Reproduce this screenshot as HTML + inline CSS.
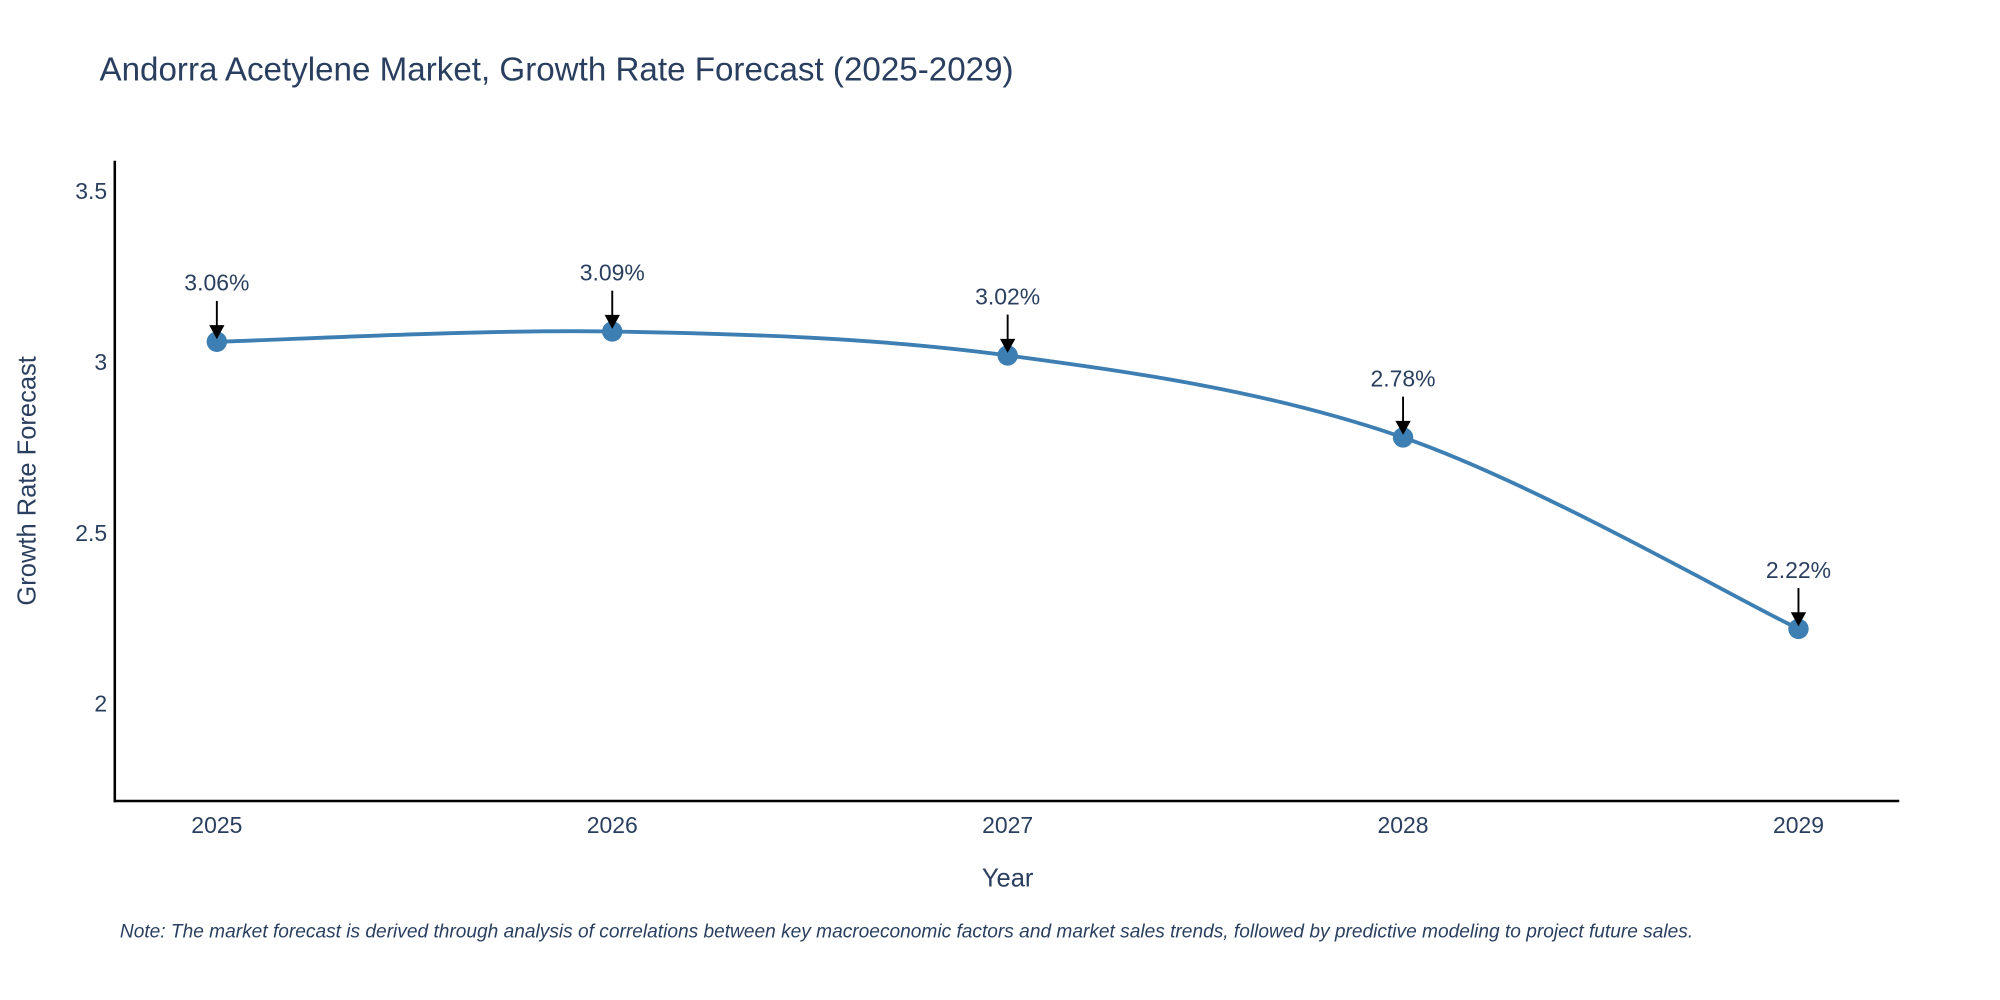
<!DOCTYPE html>
<html><head><meta charset="utf-8"><style>html,body{margin:0;padding:0;background:#fff}svg{display:block}text{font-family:"Liberation Sans",sans-serif;fill:#2a3f5f}</style></head>
<body>
<svg id="chart" width="2000" height="1000" viewBox="0 0 1568 784">
<text x="78" y="63" font-size="26">Andorra Acetylene Market, Growth Rate Forecast (2025-2029)</text>
<line x1="90" y1="126" x2="90" y2="629" stroke="#000" stroke-width="2"/>
<line x1="89" y1="628" x2="1489" y2="628" stroke="#000" stroke-width="2"/>
<g id="yticks"></g><g id="xticks"></g>
<text transform="translate(28,377) rotate(-90)" text-anchor="middle" font-size="20">Growth Rate Forecast</text>
<text x="790" y="695" text-anchor="middle" font-size="20">Year</text>
<path id="line" fill="none" stroke="#3d7fb2" stroke-width="3"/>
<g id="marks"></g>
<text x="94" y="735" font-size="15" font-style="italic">Note: The market forecast is derived through analysis of correlations between key macroeconomic factors and market sales trends, followed by predictive modeling to project future sales.</text>
</svg>
<script>
const years = [2025, 2026, 2027, 2028, 2029];
const values = [3.06, 3.09, 3.02, 2.78, 2.22];
const labels = ["3.06%", "3.09%", "3.02%", "2.78%", "2.22%"];
const yTicks = [2, 2.5, 3, 3.5];
const yTickLabels = ["2", "2.5", "3", "3.5"];
const NS = "http://www.w3.org/2000/svg";
function xs(yr){return 170 + (yr - 2025) * 310;}
function ys(v){return 284 - (v - 3) * 268;}
function mk(tag, attrs, parent){const e=document.createElementNS(NS,tag);for(const k in attrs)e.setAttribute(k,attrs[k]);parent.appendChild(e);return e;}
const yt=document.getElementById('yticks');
yTicks.forEach((t,i)=>{const e=mk('text',{x:84,y:ys(t)+6,'text-anchor':'end','font-size':18},yt);e.textContent=yTickLabels[i];

});
const xt=document.getElementById('xticks');
years.forEach(y=>{const e=mk('text',{x:xs(y),y:653,'text-anchor':'middle','font-size':18},xt);e.textContent=String(y);

});
const pts=years.map((y,i)=>[xs(y),ys(values[i])]);
let d=`M${pts[0][0]},${pts[0][1]}`;const t=0.5;
for(let i=0;i<pts.length-1;i++){const p0=pts[Math.max(0,i-1)],p1=pts[i],p2=pts[i+1],p3=pts[Math.min(pts.length-1,i+2)];
const c1=[p1[0]+(p2[0]-p0[0])*t/3,p1[1]+(p2[1]-p0[1])*t/3];const c2=[p2[0]-(p3[0]-p1[0])*t/3,p2[1]-(p3[1]-p1[1])*t/3];
d+=` C${c1[0]},${c1[1]} ${c2[0]},${c2[1]} ${p2[0]},${p2[1]}`;}
document.getElementById('line').setAttribute('d',d);
const g=document.getElementById('marks');
pts.forEach((p,i)=>{
const c=mk('circle',{cx:p[0],cy:p[1],r:8,fill:'#3d7fb2'},g);


const l=mk('line',{x1:p[0],y1:p[1]-32,x2:p[0],y2:p[1]-12,stroke:'#000','stroke-width':1.5},g);


const a=mk('polygon',{points:`${p[0]-6},${p[1]-13} ${p[0]+6},${p[1]-13} ${p[0]},${p[1]-2}`,fill:'#000'},g);


const tx=mk('text',{x:p[0],y:p[1]-40,'text-anchor':'middle','font-size':18},g);tx.textContent=labels[i];

});
</script>
</body></html>
